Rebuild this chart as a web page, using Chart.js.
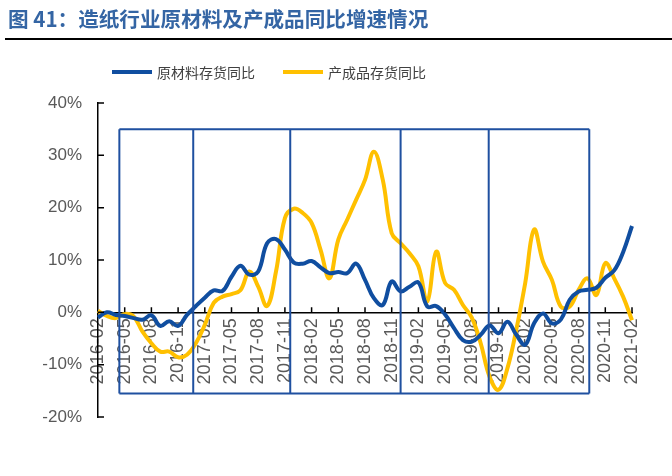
<!DOCTYPE html>
<html>
<head>
<meta charset="utf-8">
<script src="https://cdn.jsdelivr.net/npm/chart.js@4.4.1/dist/chart.umd.min.js"></script>
<style>
  body { margin: 0; background: #fff; }
  #wrap { position: relative; width: 672px; height: 476px; overflow: hidden; }
  #judul { position: absolute; left: 8px; top: 3px; font: bold 20.6px "Noto Sans CJK SC", sans-serif; color: #3465a4; white-space: nowrap; }
  #garis { position: absolute; left: 5px; right: 0; top: 38px; border-top: 2px solid #000; }
  #legenda { position: absolute; top: 62px; left: 112px; font: 14px "Noto Sans CJK SC", sans-serif; color: #404040; display: flex; align-items: center; }
  #legenda span.k { display: inline-block; width: 40px; height: 4px; margin-right: 5px; }
  #legenda span.t { margin-right: 28px; }
  canvas { position: absolute; left: 0; top: 0; }
</style>
</head>
<body>
<div id="wrap">
  <canvas id="lineChart" width="672" height="476"></canvas>
  <div id="judul">图 41：造纸行业原材料及产成品同比增速情况</div>
  <div id="garis"></div>
  <div id="legenda"></div>
</div>
<script>
// ===============================
// DATA
// ===============================
const bulan = [
  '2016-02','2016-03','2016-04','2016-05','2016-06','2016-07','2016-08','2016-09','2016-10','2016-11','2016-12',
  '2017-01','2017-02','2017-03','2017-04','2017-05','2017-06','2017-07','2017-08','2017-09','2017-10','2017-11','2017-12',
  '2018-01','2018-02','2018-03','2018-04','2018-05','2018-06','2018-07','2018-08','2018-09','2018-10','2018-11','2018-12',
  '2019-01','2019-02','2019-03','2019-04','2019-05','2019-06','2019-07','2019-08','2019-09','2019-10','2019-11','2019-12',
  '2020-01','2020-02','2020-03','2020-04','2020-05','2020-06','2020-07','2020-08','2020-09','2020-10','2020-11','2020-12',
  '2021-01','2021-02'
];

// 原材料存货同比 (%)
const bahanBaku = [
  -1.0, 0.0, -0.5, -0.7, -1.1, -1.4, -0.6, -2.6, -1.7, -2.6, -0.5,
  1.2, 2.8, 4.2, 4.1, 6.8, 8.9, 7.2, 7.8, 13.2, 14.0, 12.0, 9.5,
  9.3, 9.8, 8.6, 7.5, 7.7, 7.5, 9.3, 6.2, 2.7, 1.4, 5.9, 4.0,
  4.9, 5.7, 1.1, 1.2, -0.4, -3.0, -5.3, -5.6, -4.3, -2.5, -4.0, -1.8,
  -4.3, -6.2, -2.1, -0.2, -2.1, -1.4, 2.4, 4.0, 4.3, 4.7, 6.6, 8.0,
  11.5, 16.5
];

// 产成品存货同比 (%)
const barangJadi = [
  0.3, -0.7, -1.1, -0.3, -0.8, -3.7, -5.9, -7.5, -7.5, -8.6, -8.1,
  -5.9, -2.4, 1.8, 3.0, 3.5, 4.2, 7.8, 4.9, 1.2, 7.8, 18.0, 19.8,
  19.0, 17.1, 12.0, 6.5, 13.9, 17.7, 21.5, 25.3, 30.7, 25.3, 15.1, 13.2,
  11.3, 8.8, 2.1, 11.6, 5.6, 4.3, 1.4, -1.0, -5.9, -12.3, -14.8, -10.7,
  -3.3, 5.6, 15.8, 9.7, 6.2, 1.1, 1.1, 4.3, 6.5, 3.3, 9.4, 6.5,
  3.0, -1.5
];

const namaSeri = ['原材料存货同比', '产成品存货同比'];
const warnaSeri = ['#104ea0', '#ffc000'];

// kotak penanda periode (indeks bulan, nilai %)
const batasKotak = [2.4, 10.7, 21.6, 34.0, 43.9, 55.2];
const kotakAtas = 35;
const kotakBawah = -15.5;

const yTicks = [-20, -10, 0, 10, 20, 30, 40];

// ===============================
// LEGEND (HTML)
// ===============================
const leg = document.getElementById('legenda');
namaSeri.forEach((n, i) => {
  leg.innerHTML += `<span class="k" style="background:${warnaSeri[i]}"></span><span class="t">${n}</span>`;
});

// ===============================
// PLUGIN: kotak + tick ke dalam
// ===============================
const hiasan = {
  id: 'hiasan',
  afterDatasetsDraw(chart) {
    const { ctx, scales: { x, y } } = chart;
    ctx.save();
    ctx.strokeStyle = '#1f50a0';
    ctx.lineWidth = 2;
    const t = y.getPixelForValue(kotakAtas);
    const b = y.getPixelForValue(kotakBawah);
    const l = x.getPixelForValue(batasKotak[0]);
    const r = x.getPixelForValue(batasKotak[batasKotak.length - 1]);
    ctx.beginPath();
    ctx.moveTo(l, t); ctx.lineTo(r, t);
    ctx.moveTo(l, b); ctx.lineTo(r, b);
    batasKotak.forEach(v => {
      const px = x.getPixelForValue(v);
      ctx.moveTo(px, t); ctx.lineTo(px, b);
    });
    ctx.stroke();

    // tick marks pointing inward
    ctx.strokeStyle = '#000';
    ctx.lineWidth = 1.5;
    ctx.beginPath();
    const y0 = y.getPixelForValue(0);
    bulan.forEach((m, i) => {
      if (i % 3 === 0 && i > 0) {
        const px = x.getPixelForValue(i);
        ctx.moveTo(px, y0); ctx.lineTo(px, y0 - 5);
      }
    });
    yTicks.forEach(v => {
      const py = y.getPixelForValue(v);
      ctx.moveTo(x.left, py); ctx.lineTo(x.left + 6, py);
    });
    ctx.stroke();
    ctx.restore();
  }
};

// ===============================
// LINE CHART
// ===============================
new Chart(document.getElementById('lineChart'), {
  type: 'line',
  data: {
    labels: bulan,
    datasets: [bahanBaku, barangJadi].map((d, i) => ({
      label: namaSeri[i],
      data: d,
      borderColor: warnaSeri[i],
      backgroundColor: warnaSeri[i],
      borderWidth: 4,
      pointRadius: 0,
      tension: 0.4,
      fill: false
    }))
  },
  options: {
    responsive: false,
    animation: false,
    layout: { padding: { top: 103, right: 40, bottom: 59, left: 0 } },
    plugins: {
      legend: { display: false },
      tooltip: { enabled: false }
    },
    scales: {
      x: {
        position: { y: 0 },
        offset: false,
        grid: { display: false, drawTicks: false },
        border: { display: true, color: '#000', width: 1.5 },
        ticks: {
          autoSkip: false,
          minRotation: 90,
          maxRotation: 90,
          padding: 6,
          color: '#595959',
          font: { family: '"Liberation Sans", Arial, sans-serif', size: 18 },
          callback: (v, i) => (i % 3 === 0 ? bulan[i] : '')
        }
      },
      y: {
        min: -20,
        max: 40,
        afterFit: s => { s.width = 98; },
        afterBuildTicks: s => { s.ticks = yTicks.map(v => ({ value: v })); },
        grid: { display: false, drawTicks: false },
        border: { display: true, color: '#000', width: 1.5 },
        ticks: {
          padding: 16,
          color: '#595959',
          font: { family: '"Liberation Sans", Arial, sans-serif', size: 17 },
          callback: v => v + '%'
        }
      }
    }
  },
  plugins: [hiasan]
});
</script>
</body>
</html>
